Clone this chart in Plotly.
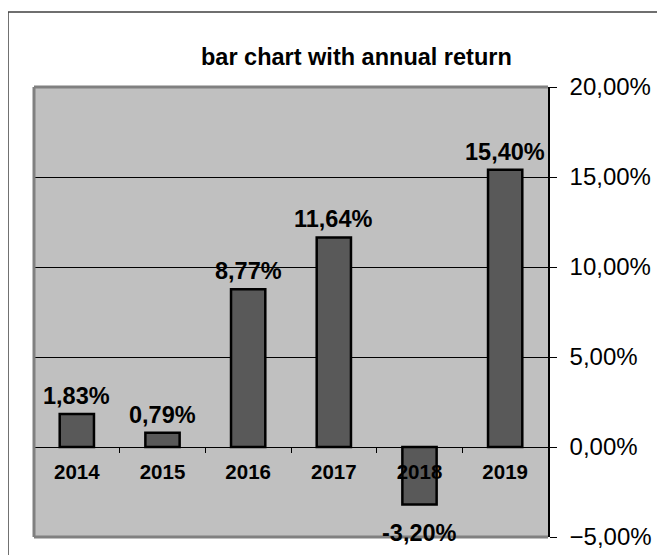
import plotly.graph_objects as go

years = ["2014", "2015", "2016", "2017", "2018", "2019"]
returns = [0.0183, 0.0079, 0.0877, 0.1164, -0.0320, 0.1540]
labels = ["1,83%", "0,79%", "8,77%", "11,64%", "-3,20%", "15,40%"]
title_text = "bar chart with annual return"

FONT = "Liberation Sans, Arial, sans-serif"

fig = go.Figure()
fig.add_trace(go.Bar(
    x=years, y=returns,
    marker=dict(color="#595959", line=dict(color="black", width=2.5)),
    cliponaxis=False,
    hoverinfo="skip",
))

annotations = []
for i, (v, t) in enumerate(zip(returns, labels)):
    annotations.append(dict(
        x=i, y=v, xref="x", yref="y", text="<b>%s</b>" % t, showarrow=False,
        xanchor="center",
        yanchor="bottom" if v >= 0 else "top",
        yshift=3 if v >= 0 else -13,
        font=dict(family=FONT, size=23.5, color="black"),
    ))
annotations.append(dict(
    x=0.628, y=1.067, xref="paper", yref="paper", text="<b>%s</b>" % title_text,
    showarrow=False, xanchor="center", yanchor="middle",
    font=dict(family=FONT, size=23.5, color="black"),
))

shapes = [
    dict(type="rect", xref="paper", yref="paper", x0=-0.0506, x1=1.3, y0=-0.2, y1=1.1667,
         line=dict(color="#404040", width=1.5), layer="below"),
    dict(type="line", xref="paper", yref="paper", x0=0, x1=0, y0=0, y1=1,
         line=dict(color="#808080", width=3)),
    dict(type="line", xref="paper", yref="paper", x0=0, x1=1, y0=1, y1=1,
         line=dict(color="#808080", width=3)),
    dict(type="line", xref="paper", yref="paper", x0=0, x1=1, y0=0, y1=0,
         line=dict(color="#808080", width=3), layer="below"),
]

fig.update_layout(
    width=657, height=547,
    margin=dict(l=26, r=117, t=79, b=18, autoexpand=False),
    paper_bgcolor="white",
    plot_bgcolor="#C0C0C0",
    separators=",.",
    showlegend=False,
    bargap=0.6,
    font=dict(family=FONT, color="black"),
    annotations=annotations,
    shapes=shapes,
    xaxis=dict(
        type="category", categoryorder="array", categoryarray=years,
        range=[-0.5, len(years) - 0.5], autorange=False,
        tickmode="array", tickvals=years, ticktext=["<b>%s</b>" % y for y in years],
        tickangle=0,
        anchor="free", position=0.2,
        showline=True, linecolor="black", linewidth=1,
        ticks="outside", tickson="boundaries", ticklen=5, tickcolor="black",
        tickfont=dict(family=FONT, size=20.5, color="black"),
        ticklabelstandoff=6,
        showgrid=False, zeroline=False,
    ),
    yaxis=dict(
        side="right", range=[-0.05, 0.2], autorange=False, dtick=0.05, tick0=0,
        tickformat=".2%",
        showline=True, linecolor="black", linewidth=1.5,
        ticks="outside", ticklen=7, tickcolor="black",
        showgrid=True, gridcolor="black", gridwidth=1,
        zeroline=False,
        tickfont=dict(family=FONT, size=24, color="black"),
        ticklabelstandoff=8,
    ),
)

fig.write_html("out.html")
